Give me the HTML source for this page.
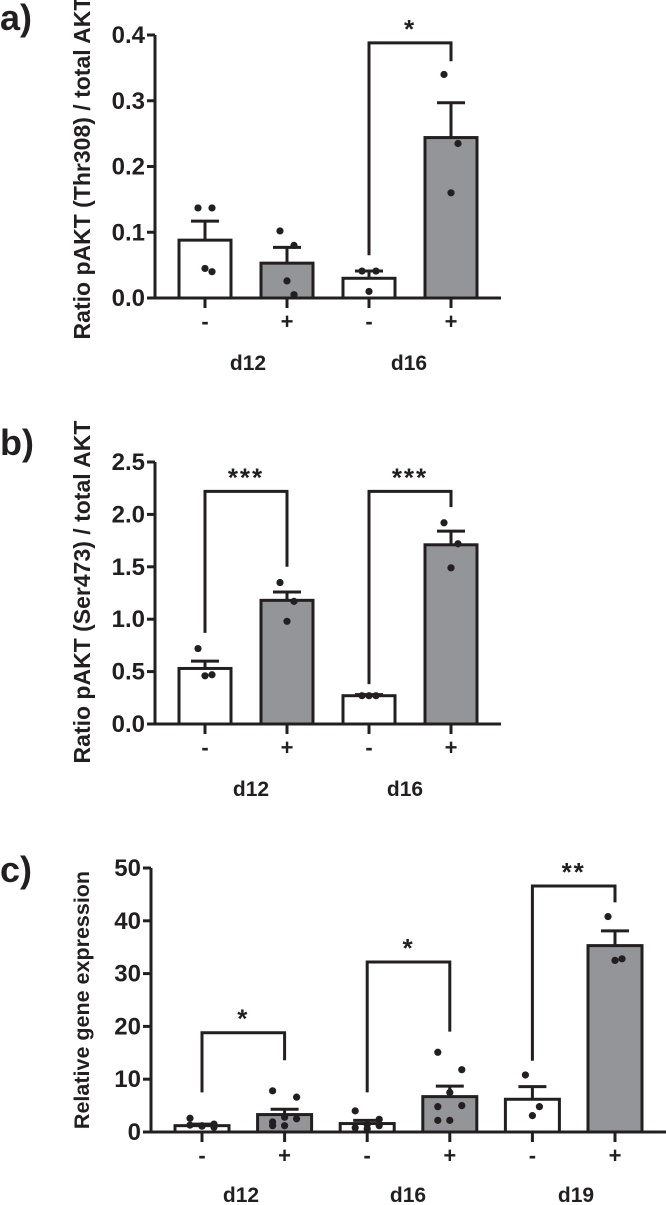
<!DOCTYPE html>
<html><head><meta charset="utf-8"><style>
html,body{margin:0;padding:0;background:#fff;}
svg{display:block;font-family:"Liberation Sans",Arial,sans-serif;font-weight:bold;}
</style></head><body>
<svg id="fig" width="666" height="1205" viewBox="0 0 666 1205" xmlns="http://www.w3.org/2000/svg"></svg>
<script>
// ---- Panel a data ----
const aCategories = ["-", "+", "-", "+"];
const aMeans = [0.088, 0.053, 0.030, 0.244];
const aSem = [0.029, 0.024, 0.011, 0.053];
const aPoints = [[0.137, 0.137, 0.045, 0.040], [0.102, 0.080, 0.026, 0.005], [0.041, 0.041, 0.010], [0.340, 0.235, 0.160]];
const aTicks = [0, 0.1, 0.2, 0.3, 0.4];
const aTickLabels = ["0.0", "0.1", "0.2", "0.3", "0.4"];
// ---- Panel b data ----
const bCategories = ["-", "+", "-", "+"];
const bMeans = [0.53, 1.18, 0.27, 1.71];
const bSem = [0.07, 0.08, 0.01, 0.13];
const bPoints = [[0.72, 0.47, 0.46], [1.35, 1.17, 0.98], [0.27, 0.27, 0.27], [1.92, 1.72, 1.49]];
const bTicks = [0, 0.5, 1.0, 1.5, 2.0, 2.5];
const bTickLabels = ["0.0", "0.5", "1.0", "1.5", "2.0", "2.5"];
// ---- Panel c data ----
const cCategories = ["-", "+", "-", "+", "-", "+"];
const cMeans = [1.2, 3.3, 1.6, 6.7, 6.2, 35.3];
const cSem = [0.3, 1.0, 0.6, 2.0, 2.4, 2.8];
const cPoints = [[2.6, 1.5, 1.2, 0.9, 1.3, 1.1], [7.8, 6.6, 2.8, 2.5, 1.2, 1.2, 1.9], [4.0, 2.4, 1.4, 1.2, 0.8, 0.6], [15.1, 11.8, 7.5, 5.0, 4.8, 2.2, 2.2], [10.8, 4.8, 3.1], [40.8, 32.8, 32.5]];
const cTicks = [0, 10, 20, 30, 40, 50];
const cTickLabels = ["0", "10", "20", "30", "40", "50"];

const NS = "http://www.w3.org/2000/svg";
const svg = document.getElementById("fig");
const INK = "#231f20", GRAY = "#939598";
function mk(tag, attrs, parent) {
  const e = document.createElementNS(NS, tag);
  for (const k in attrs) e.setAttribute(k, attrs[k]);
  (parent || svg).appendChild(e);
  return e;
}
function txt(s, x, y, size, anchor, parent) {
  const t = mk("text", {x: x, y: y, "font-size": size, "text-anchor": anchor || "middle", fill: INK}, parent);
  t.textContent = s;
  return t;
}

function panel(cfg) {
  const g = mk("g", {});
  
  
  const y = v => cfg.y0 - (v - 0) / cfg.vmax * (cfg.y0 - cfg.yTop);
  const x = i => cfg.x0 + i * cfg.pitch;
  const L = txt(cfg.letter, 0, cfg.letterY, 36, "start", g);
  
  
  const yt = txt(cfg.title, 0, 0, cfg.titleSize, "middle", g);
  yt.setAttribute("transform", "translate(" + cfg.titleX + "," + cfg.titleY + ") rotate(-90)");
  
  
  cfg.means.forEach((m, i) => {
    const r = mk("rect", {x: x(i) - cfg.bw / 2, y: y(m), width: cfg.bw, height: y(0) - y(m),
      fill: i % 2 ? GRAY : "#fff", stroke: INK, "stroke-width": 3}, g);
    
    
    const top = y(m + cfg.sem[i]);
    const eb = mk("path", {d: "M" + x(i) + " " + y(m) + "V" + top + "M" + (x(i) - 14) + " " + top + "H" + (x(i) + 14),
      stroke: INK, "stroke-width": 3, fill: "none"}, g);
    
    
    const pts = cfg.points[i];
    pts.forEach((p, j) => {
      const n = pts.length;
      const off = n > 1 ? (j % 2 ? 1 : -1) * (j % 3 === 2 ? 0 : (n > 4 ? 12 : 7)) : 0;
      const c = mk("circle", {cx: x(i) + off, cy: y(p), r: 3.6, fill: INK}, g);
      
      
    });
    mk("line", {x1: x(i), y1: y(0), x2: x(i), y2: y(0) + 10, stroke: INK, "stroke-width": 3}, g);
    const cl = txt(cfg.cats[i], x(i), cfg.catY, 22, "middle", g);
    
    
  });
  const ax = mk("path", {d: "M" + cfg.axX + " " + cfg.yTop + "V" + y(0) + "M" + (cfg.axX - 8) + " " + y(0) + "H" + cfg.axEnd,
    stroke: INK, "stroke-width": 3, fill: "none"}, g);
  
  
  cfg.ticks.forEach((t, k) => {
    mk("line", {x1: cfg.axX - 8, y1: y(t), x2: cfg.axX, y2: y(t), stroke: INK, "stroke-width": 3}, g);
    const tl = txt(cfg.tickLabels[k], cfg.axX - 10, y(t) + 8, 24, "end", g);
    
    
  });
  cfg.groups.forEach(gr => {
    const gl = txt(gr[0], gr[1], cfg.groupY, 21, "middle", g);
    
    
  });
  cfg.brackets.forEach(b => {
    const [i1, i2, top, l1, l2, star] = b;
    const br = mk("path", {d: "M" + x(i1) + " " + y(l1) + "V" + y(top) + "H" + x(i2) + "V" + y(l2),
      stroke: INK, "stroke-width": 3, fill: "none"}, g);
    
    
    const s = txt(star, (x(i1) + x(i2)) / 2, y(top) - 5, 26, "middle", g);
    s.setAttribute("letter-spacing", "2");
    
    
  });
}

panel({name: "panel-a", letter: "a)", letterY: 30, title: "Ratio pAKT (Thr308) / total AKT", titleSize: 23, titleX: 90, titleY: 168,
  x0: 205, pitch: 82, bw: 52, y0: 298, yTop: 35, vmax: 0.4, axX: 155, axEnd: 501,
  means: aMeans, sem: aSem, points: aPoints, cats: aCategories, ticks: aTicks, tickLabels: aTickLabels, catY: 329,
  groups: [["d12", 248], ["d16", 409]], groupY: 370,
  brackets: [[2, 3, 0.388, 0.065, 0.36, "*"]]});

panel({name: "panel-b", letter: "b)", letterY: 455, title: "Ratio pAKT (Ser473) / total AKT", titleSize: 23, titleX: 90, titleY: 592,
  x0: 205, pitch: 82, bw: 52, y0: 724, yTop: 462, vmax: 2.5, axX: 155, axEnd: 501,
  means: bMeans, sem: bSem, points: bPoints, cats: bCategories, ticks: bTicks, tickLabels: bTickLabels, catY: 755,
  groups: [["d12", 251], ["d16", 405]], groupY: 796,
  brackets: [[0, 1, 2.22, 0.87, 1.5, "***"], [2, 3, 2.22, 0.38, 2.07, "***"]]});

panel({name: "panel-c", letter: "c)", letterY: 882, title: "Relative gene expression", titleSize: 21.5, titleX: 89, titleY: 1000,
  x0: 202, pitch: 82.6, bw: 54, y0: 1132, yTop: 868, vmax: 50, axX: 151, axEnd: 666,
  means: cMeans, sem: cSem, points: cPoints, cats: cCategories, ticks: cTicks, tickLabels: cTickLabels, catY: 1163,
  groups: [["d12", 241], ["d16", 408], ["d19", 576]], groupY: 1202,
  brackets: [[0, 1, 18.8, 7.5, 13.6, "*"], [2, 3, 32.2, 7.5, 19.0, "*"], [4, 5, 46.6, 13.5, 43.5, "**"]]});
</script>
</body></html>
